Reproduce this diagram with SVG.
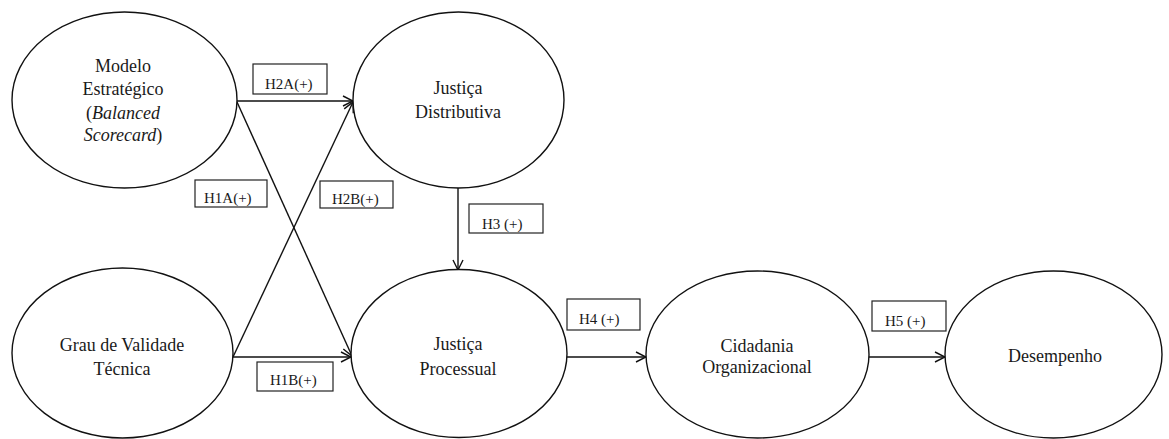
<svg xmlns="http://www.w3.org/2000/svg" width="1169" height="439" viewBox="0 0 1169 439">
<defs>
<style>
.node ellipse{fill:#fff;stroke:#111;stroke-width:1.4}
.node text{font-family:"Liberation Serif","Times New Roman",serif;font-size:18px;fill:#1a1a1a;text-anchor:middle}
.conn line{stroke:#111;stroke-width:1.4;fill:none}
.lbl rect{fill:#fff;stroke:#222;stroke-width:1.2}
.lbl text{font-family:"Liberation Serif","Times New Roman",serif;font-size:15px;fill:#1a1a1a}
</style>
<marker id="arr" viewBox="0 0 12 12" refX="11" refY="6" markerWidth="12" markerHeight="12" markerUnits="userSpaceOnUse" orient="auto">
<path d="M1,1 L11,6 L1,11" fill="none" stroke="#111" stroke-width="1.4"/>
</marker>
</defs>
<rect width="1169" height="439" fill="#fff"/>
<g id="connectors" class="conn">
<line x1="237" y1="101" x2="353" y2="101" marker-end="url(#arr)"/>
<line x1="237" y1="102" x2="352" y2="356" marker-end="url(#arr)"/>
<line x1="233" y1="357" x2="353" y2="102" marker-end="url(#arr)"/>
<line x1="233" y1="357" x2="351" y2="357" marker-end="url(#arr)"/>
<line x1="458" y1="188" x2="458" y2="270" marker-end="url(#arr)"/>
<line x1="567" y1="357" x2="646" y2="357" marker-end="url(#arr)"/>
<line x1="869" y1="357" x2="945" y2="357" marker-end="url(#arr)"/>
</g>
<g id="n-modelo" class="node">
<ellipse cx="124.5" cy="100" rx="112.5" ry="88"/>
<text x="123" y="72">Modelo</text>
<text x="123" y="95">Estratégico</text>
<text x="123" y="119">(<tspan font-style="italic">Balanced</tspan></text>
<text x="123" y="141"><tspan font-style="italic">Scorecard</tspan>)</text>
</g>
<g id="n-distributiva" class="node">
<ellipse cx="458.5" cy="100" rx="105.5" ry="88"/>
<text x="458" y="94">Justiça</text>
<text x="458" y="118">Distributiva</text>
</g>
<g id="n-grau" class="node">
<ellipse cx="122.5" cy="353" rx="110.5" ry="85"/>
<text x="122" y="351">Grau de Validade</text>
<text x="122" y="375">Técnica</text>
</g>
<g id="n-processual" class="node">
<ellipse cx="459" cy="353.5" rx="108" ry="84"/>
<text x="458" y="350">Justiça</text>
<text x="458" y="375">Processual</text>
</g>
<g id="n-cidadania" class="node">
<ellipse cx="757.5" cy="354.5" rx="111.5" ry="83.5"/>
<text x="757" y="352">Cidadania</text>
<text x="757" y="373">Organizacional</text>
</g>
<g id="n-desempenho" class="node">
<ellipse cx="1053.5" cy="354.5" rx="108.5" ry="83.5"/>
<text x="1055" y="362">Desempenho</text>
</g>
<g id="labels" class="lbl">
<g id="l-h2a"><rect x="253" y="64" width="74" height="30"/><text x="265" y="89">H2A(+)</text></g>
<g id="l-h1a"><rect x="195" y="180" width="72" height="27"/><text x="204" y="203">H1A(+)</text></g>
<g id="l-h2b"><rect x="320" y="181" width="73" height="27"/><text x="332" y="204">H2B(+)</text></g>
<g id="l-h3"><rect x="469" y="204" width="74" height="29"/><text x="482" y="229">H3 (+)</text></g>
<g id="l-h1b"><rect x="257" y="362" width="76" height="29"/><text x="270" y="385">H1B(+)</text></g>
<g id="l-h4"><rect x="567" y="299" width="73" height="31"/><text x="579" y="324">H4 (+)</text></g>
<g id="l-h5"><rect x="872" y="301" width="74" height="30"/><text x="885" y="326">H5 (+)</text></g>
</g>
</svg>
